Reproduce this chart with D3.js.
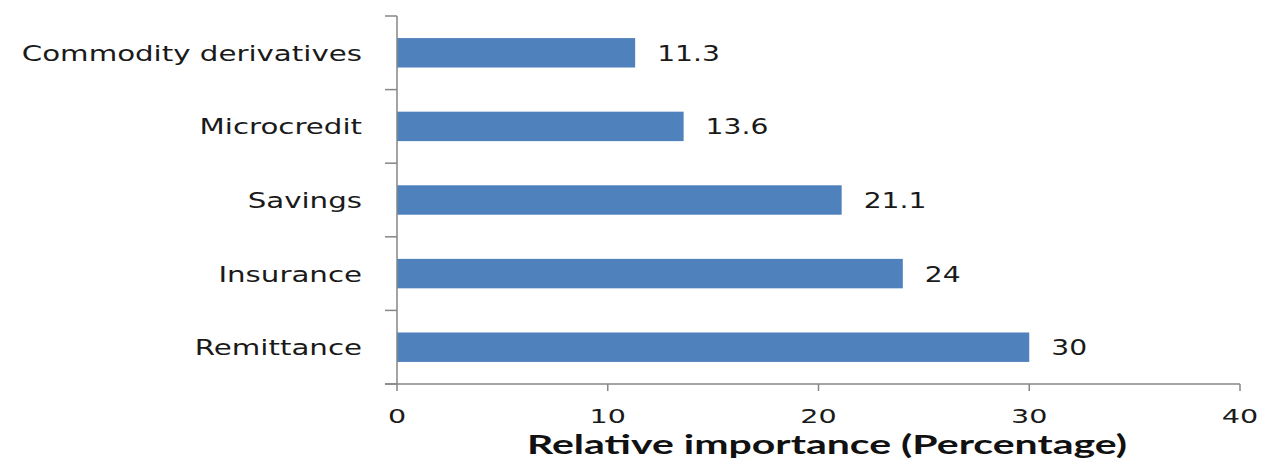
<!DOCTYPE html>
<html><head><meta charset="utf-8">
<script src="https://cdn.jsdelivr.net/npm/d3@7/dist/d3.min.js"></script>
<style>body{margin:0;background:#fff}svg{display:block}</style>
</head><body>
<svg id="c" width="1263" height="459"></svg>
<script>
const categories = ["Commodity derivatives","Microcredit","Savings","Insurance","Remittance"];
const values = [11.3, 13.6, 21.1, 24, 30];
const xTicks = [0, 10, 20, 30, 40];
const xTitle = "Relative importance (Percentage)";

const svg = d3.select("#c");
const pL = 397, pR = 1240, pT = 16, pB = 384;
const x = d3.scaleLinear().domain([0, 40]).range([pL, pR]);
const y = d3.scaleBand().domain(categories).range([pT, pB]).paddingInner(0.6).paddingOuter(0.3);
const axisColor = "#868686";

function stretch(sel, k){
  sel.each(function(){ const w = this.getComputedTextLength(); d3.select(this).attr("textLength", w*k).attr("lengthAdjust","spacingAndGlyphs"); });
}

// bars
svg.append("g").selectAll("rect").data(values).join("rect")
  .attr("x", x(0)).attr("y", (d,i)=>y(categories[i]))
  .attr("width", d=>x(d)-x(0)).attr("height", y.bandwidth())
  .attr("fill", "#4F81BD");

// y axis
const ya = svg.append("g");
ya.append("line").attr("x1", pL).attr("x2", pL).attr("y1", pT).attr("y2", pB).attr("stroke", axisColor).attr("stroke-width", 1.5);
const step = (pB-pT)/categories.length;
ya.selectAll(".yt").data(d3.range(categories.length+1)).join("line")
  .attr("x1", pL-12).attr("x2", pL).attr("y1", i=>pT+i*step).attr("y2", i=>pT+i*step)
  .attr("stroke", axisColor).attr("stroke-width", 1.5);
const catLabels = ya.selectAll(".cl").data(categories).join("text")
  .attr("x", 362).attr("y", d=>y(d)+y.bandwidth()/2).attr("dy","0.36em")
  .attr("text-anchor","end").attr("font-family","DejaVu Sans").attr("font-size", 22).attr("fill","#1a1a1a")
  .text(d=>d);
stretch(catLabels, 1.33);

// x axis
const xa = svg.append("g");
xa.append("line").attr("x1", pL-12).attr("x2", pR).attr("y1", pB).attr("y2", pB).attr("stroke", axisColor).attr("stroke-width", 1.5);
xa.selectAll(".xt").data(xTicks).join("line")
  .attr("x1", d=>x(d)).attr("x2", d=>x(d)).attr("y1", pB).attr("y2", pB+7)
  .attr("stroke", axisColor).attr("stroke-width", 1.5);
const tl = xa.selectAll(".xl").data(xTicks).join("text")
  .attr("x", d=>x(d)).attr("y", 422.5).attr("text-anchor","middle")
  .attr("font-family","DejaVu Sans").attr("font-size", 20).attr("fill","#1a1a1a")
  .text(d=>d);
stretch(tl, 1.43);

// value labels
const vl = svg.append("g").selectAll("text").data(values).join("text")
  .attr("x", d=>x(d)+22).attr("y", (d,i)=>y(categories[i])+y.bandwidth()/2).attr("dy","0.36em")
  .attr("font-family","DejaVu Sans").attr("font-size", 22).attr("fill","#1a1a1a")
  .text(d=>d);
stretch(vl, 1.28);

// title
svg.append("text").attr("x", 827).attr("y", 454).attr("text-anchor","middle")
  .attr("font-family","Lato").attr("font-weight","bold").attr("font-size", 26).attr("fill","#111")
  .attr("textLength", 600).attr("lengthAdjust","spacingAndGlyphs")
  .text(xTitle);
</script>
</body></html>
